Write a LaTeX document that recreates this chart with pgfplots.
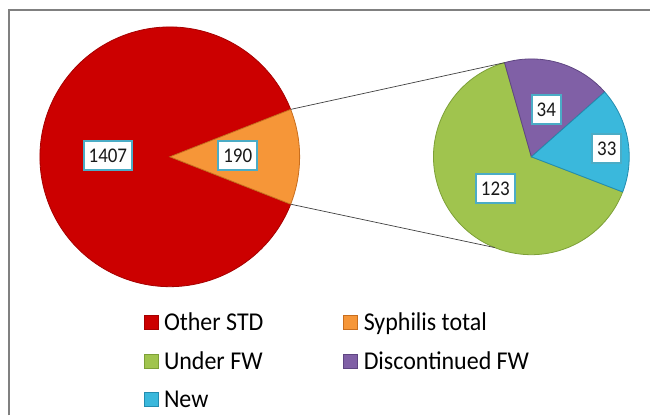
\documentclass[border=0pt]{standalone}
\usepackage{fontspec}
\setmainfont{Carlito}
\usepackage{pgfplots}
\pgfplotsset{compat=1.18}
\definecolor{cRed}{RGB}{204,0,0}
\definecolor{cRedD}{RGB}{165,0,0}
\definecolor{cOrange}{RGB}{246,150,56}
\definecolor{cOrangeD}{RGB}{200,110,30}
\definecolor{cGreen}{RGB}{160,196,78}
\definecolor{cGreenD}{RGB}{125,160,55}
\definecolor{cPurple}{RGB}{128,96,166}
\definecolor{cPurpleD}{RGB}{95,70,130}
\definecolor{cBlue}{RGB}{58,184,220}
\definecolor{cBlueD}{RGB}{35,140,175}
\definecolor{cBox}{RGB}{75,172,198}
\definecolor{cFrame}{RGB}{128,128,128}
\begin{document}
\begin{tikzpicture}
% data values
\def\vOther{1407}
\def\vSyph{190}
\def\vUnder{123}
\def\vDisc{34}
\def\vNew{33}
% angles derived from the values
\pgfmathsetmacro\ha{\vSyph/(\vOther+\vSyph)*180}
\pgfmathsetmacro\hb{360-\ha}
\pgfmathsetmacro\aZero{105.9}
\pgfmathsetmacro\aDisc{\aZero-\vDisc/(\vUnder+\vDisc+\vNew)*360}
\pgfmathsetmacro\aNew{\aDisc-\vNew/(\vUnder+\vDisc+\vNew)*360}
\pgfmathsetmacro\aUnder{\aZero+\vUnder/(\vUnder+\vDisc+\vNew)*360}
\begin{axis}[width=651bp,height=416bp,scale only axis,
  xmin=0,xmax=651,ymin=0,ymax=416,y dir=reverse,
  axis lines=none,ticks=none,clip=false,enlargelimits=false]
% full canvas for the bounding box
\path (axis cs:0,0) rectangle (axis cs:651,416);
% frame
\draw[cFrame,line width=1.6bp] (axis cs:9,416) -- (axis cs:9,10) -- (axis cs:651,10);
% main pie
\fill[cRed,draw=cRedD,line width=0.8bp] (axis cs:170,157) -- ++(\ha:130bp) arc[start angle=\ha,end angle=\hb,radius=130bp] -- cycle;
\fill[cOrange,draw=cOrangeD,line width=0.8bp] (axis cs:170,157) -- ++(-\ha:130bp) arc[start angle=-\ha,end angle=\ha,radius=130bp] -- cycle;
% second pie
\fill[cGreen,draw=cGreenD,line width=0.8bp] (axis cs:532,157) -- ++(\aZero:98bp) arc[start angle=\aZero,end angle=\aUnder,radius=98bp] -- cycle;
\fill[cPurple,draw=cPurpleD,line width=0.8bp] (axis cs:532,157) -- ++(\aDisc:98bp) arc[start angle=\aDisc,end angle=\aZero,radius=98bp] -- cycle;
\fill[cBlue,draw=cBlueD,line width=0.8bp] (axis cs:532,157) -- ++(\aNew:98bp) arc[start angle=\aNew,end angle=\aDisc,radius=98bp] -- cycle;
% connector lines
\path (axis cs:170,157) ++(\ha:130bp) coordinate (A1);
\path (axis cs:170,157) ++(-\ha:130bp) coordinate (A2);
\path (axis cs:532,157) ++(\aZero:98bp) coordinate (B1);
\path (axis cs:532,157) ++(248:98bp) coordinate (B2);
\draw[black!75,line width=0.7bp] (A1) -- (B1);
\draw[black!75,line width=0.7bp] (A2) -- (B2);
% data labels
\tikzset{lbl/.style={draw=cBox,line width=1.9bp,fill=white,inner xsep=5bp,inner ysep=0bp,
  text height=14bp,text depth=0bp,minimum height=29bp,font=\fontsize{19bp}{21bp}\selectfont,text=black!90}}
\newcommand\vs[1]{\scalebox{1}[1.1]{#1}}
\node[lbl] at (axis cs:108,156) {\vs{\vOther}};
\node[lbl] at (axis cs:238,156) {\vs{\vSyph}};
\node[lbl] at (axis cs:547,110) {\vs{\vDisc}};
\node[lbl] at (axis cs:607.5,148.5) {\vs{\vNew}};
\node[lbl] at (axis cs:496,189) {\vs{\vUnder}};
% legend
\tikzset{lt/.style={anchor=base west,inner sep=0pt,font=\fontsize{24bp}{28bp}\selectfont,text=black}}
\newcommand\ls[1]{\scalebox{1}[1.07]{#1}}
\fill[cRed,draw=cRedD,line width=0.6bp] (axis cs:144,316) rectangle (axis cs:158,330);
\node[lt] at (axis cs:164,331) {\ls{Other STD}};
\fill[cOrange,draw=cOrangeD,line width=0.6bp] (axis cs:344,316) rectangle (axis cs:358,330);
\node[lt] at (axis cs:364,331) {\ls{Syphilis total}};
\fill[cGreen,draw=cGreenD,line width=0.6bp] (axis cs:144,355) rectangle (axis cs:158,369);
\node[lt] at (axis cs:164,370) {\ls{Under FW}};
\fill[cPurple,draw=cPurpleD,line width=0.6bp] (axis cs:344,355) rectangle (axis cs:358,369);
\node[lt] at (axis cs:364,370) {\ls{Discontinued FW}};
\fill[cBlue,draw=cBlueD,line width=0.6bp] (axis cs:144,393) rectangle (axis cs:158,407);
\node[lt] at (axis cs:164,408) {\ls{New}};
\end{axis}
\end{tikzpicture}
\end{document}
